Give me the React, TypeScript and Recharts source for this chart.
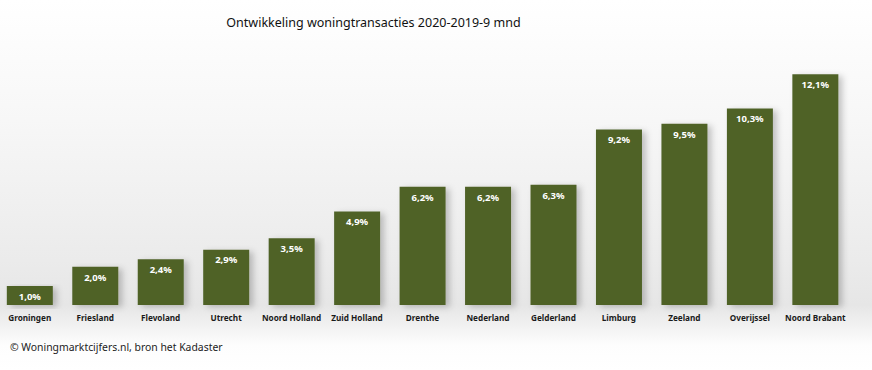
import React from 'react'
import { Bar, BarChart, LabelList, XAxis, YAxis } from 'recharts'

const provinces = [
  'Groningen', 'Friesland', 'Flevoland', 'Utrecht', 'Noord Holland', 'Zuid Holland',
  'Drenthe', 'Nederland', 'Gelderland', 'Limburg', 'Zeeland', 'Overijssel', 'Noord Brabant',
]
const growth = [1.0, 2.0, 2.4, 2.9, 3.5, 4.9, 6.2, 6.2, 6.3, 9.2, 9.5, 10.3, 12.1]

const title = 'Ontwikkeling woningtransacties 2020-2019-9 mnd'
const source = '© Woningmarktcijfers.nl, bron het Kadaster'

const data = provinces.map((name, i) => ({ name, value: growth[i] }))

const fmt = (v: any) => Number(v).toFixed(1).replace('.', ',') + '%'

const font = '"Noto Sans", "Open Sans", sans-serif'

const App = () => {
  return (
    <div
      style={{
        position: 'absolute',
        left: 0,
        top: 0,
        width: 872,
        height: 370,
        overflow: 'hidden',
        fontFamily: font,
        background:
          'linear-gradient(to bottom, #ffffff 0px, #f7f7f7 120px, #ebebeb 260px, #e6e6e6 305px, #eeeeee 320px, #fdfdfd 345px, #ffffff 370px)',
      }}
    >
      <div
        style={{
          position: 'absolute',
          left: 0,
          width: 747,
          top: 14,
          textAlign: 'center',
          fontSize: 12.5,
          color: '#111',
          whiteSpace: 'nowrap',
        }}
      >
        {title}
      </div>
      <div
        style={{
          position: 'absolute',
          left: 10,
          top: 340,
          fontSize: 10.4,
          color: '#222',
          whiteSpace: 'nowrap',
        }}
      >
        {source}
      </div>
      <div style={{ position: 'absolute', left: -3, top: 0 }}>
        <BarChart
          width={872}
          height={370}
          data={data}
          barCategoryGap="15%"
          margin={{ top: 38, right: 21, left: 0, bottom: 35 }}
        >
          <defs>
            <filter id="barShadow" x="-20%" y="-10%" width="160%" height="130%">
              <feDropShadow dx="4" dy="2" stdDeviation="3" floodColor="#000" floodOpacity="0.22" />
            </filter>
          </defs>
          <XAxis
            dataKey="name"
            interval={0}
            axisLine={false}
            tickLine={false}
            height={30}
            tick={{ fontSize: 8.2, fontWeight: 700, fill: '#1a1a1a', fontFamily: font }}
            dy={2}
          />
          <YAxis hide domain={[0, 14]} />
          <Bar
            dataKey="value"
            fill="#4f6228"
            isAnimationActive={false}
            style={{ filter: 'url(#barShadow)' }}
          >
            <LabelList
              dataKey="value"
              position="insideTop"
              offset={7}
              formatter={fmt}
              fill="#ffffff"
              style={{ fontSize: 9.5, fontWeight: 700, fontFamily: font }}
            />
          </Bar>
        </BarChart>
      </div>
    </div>
  )
}

export default App
